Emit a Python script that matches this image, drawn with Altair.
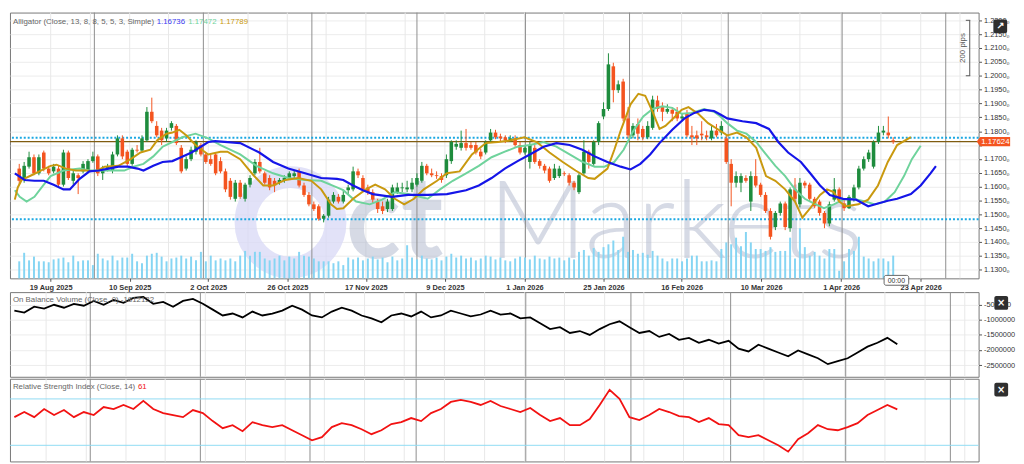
import altair as alt
import pandas as pd

# ---------------- data ----------------
OPEN = [1.1665, 1.1624, 1.1672, 1.1706, 1.1648, 1.1723, 1.1665, 1.1655, 1.1665, 1.1607,
        1.1723, 1.1621, 1.1641, 1.1655, 1.1658, 1.1692, 1.1709, 1.1648, 1.1665, 1.1658,
        1.1716, 1.1774, 1.1726, 1.1682, 1.1733, 1.1730, 1.1767, 1.1870, 1.1819, 1.1802,
        1.1774, 1.1812, 1.1819, 1.1740, 1.1665, 1.1699, 1.1726, 1.1750, 1.1716, 1.1699,
        1.1716, 1.1692, 1.1655, 1.1621, 1.1556, 1.1614, 1.1556, 1.1607, 1.1648, 1.1689,
        1.1648, 1.1631, 1.1621, 1.1614, 1.1621, 1.1631, 1.1638, 1.1655, 1.1604, 1.1570,
        1.1536, 1.1529, 1.1484, 1.1495, 1.1546, 1.1563, 1.1546, 1.1587, 1.1590, 1.1655,
        1.1631, 1.1597, 1.1580, 1.1546, 1.1529, 1.1519, 1.1519, 1.1580, 1.1594, 1.1590,
        1.1590, 1.1607, 1.1621, 1.1675, 1.1648, 1.1641, 1.1638, 1.1641, 1.1692, 1.1744,
        1.1740, 1.1757, 1.1750, 1.1750, 1.1726, 1.1723, 1.1767, 1.1795, 1.1781, 1.1778,
        1.1767, 1.1774, 1.1750, 1.1723, 1.1689, 1.1740, 1.1692, 1.1675, 1.1665, 1.1631,
        1.1638, 1.1648, 1.1641, 1.1614, 1.1580, 1.1648, 1.1726, 1.1682, 1.1761, 1.1853,
        1.1880, 1.2034, 1.1948, 1.1979, 1.1846, 1.1785, 1.1826, 1.1808, 1.1778, 1.1812,
        1.1911, 1.1887, 1.1870, 1.1877, 1.1870, 1.1846, 1.1863, 1.1785, 1.1785, 1.1791,
        1.1785, 1.1774, 1.1802, 1.1795, 1.1774, 1.1682, 1.1614, 1.1614, 1.1631, 1.1546,
        1.1638, 1.1607, 1.1570, 1.1512, 1.1454, 1.1505, 1.1539, 1.1450, 1.1590, 1.1536,
        1.1614, 1.1607, 1.1556, 1.1546, 1.1505, 1.1467, 1.1553, 1.1590, 1.1539, 1.1522,
        1.1553, 1.1597, 1.1665, 1.1699, 1.1672, 1.1761, 1.1795, 1.1795, 1.1767]
CLOSE = [1.1621, 1.1675, 1.1706, 1.1648, 1.1706, 1.1665, 1.1648, 1.1672, 1.1607, 1.1723,
         1.1631, 1.1648, 1.1631, 1.1682, 1.1692, 1.1709, 1.1648, 1.1665, 1.1672, 1.1716,
         1.1774, 1.1709, 1.1682, 1.1733, 1.1730, 1.1774, 1.1870, 1.1836, 1.1785, 1.1767,
         1.1802, 1.1829, 1.1757, 1.1655, 1.1699, 1.1733, 1.1761, 1.1716, 1.1689, 1.1682,
         1.1648, 1.1655, 1.1590, 1.1563, 1.1614, 1.1563, 1.1607, 1.1631, 1.1689, 1.1655,
         1.1614, 1.1597, 1.1604, 1.1624, 1.1631, 1.1648, 1.1648, 1.1604, 1.1570, 1.1536,
         1.1519, 1.1484, 1.1495, 1.1553, 1.1570, 1.1546, 1.1570, 1.1597, 1.1655, 1.1641,
         1.1590, 1.1580, 1.1553, 1.1519, 1.1512, 1.1546, 1.1597, 1.1597, 1.1597, 1.1597,
         1.1614, 1.1631, 1.1675, 1.1648, 1.1641, 1.1638, 1.1624, 1.1699, 1.1761, 1.1754,
         1.1757, 1.1740, 1.1740, 1.1723, 1.1709, 1.1761, 1.1795, 1.1778, 1.1774, 1.1767,
         1.1774, 1.1750, 1.1723, 1.1740, 1.1750, 1.1689, 1.1675, 1.1658, 1.1621, 1.1665,
         1.1665, 1.1645, 1.1614, 1.1597, 1.1641, 1.1726, 1.1689, 1.1761, 1.1829, 1.1880,
         1.2041, 1.1948, 1.1969, 1.1846, 1.1785, 1.1819, 1.1791, 1.1778, 1.1819, 1.1914,
         1.1880, 1.1870, 1.1880, 1.1863, 1.1846, 1.1853, 1.1785, 1.1778, 1.1774, 1.1785,
         1.1778, 1.1802, 1.1785, 1.1819, 1.1689, 1.1614, 1.1638, 1.1638, 1.1621, 1.1638,
         1.1604, 1.1570, 1.1512, 1.1419, 1.1505, 1.1539, 1.1454, 1.1590, 1.1556, 1.1614,
         1.1604, 1.1556, 1.1529, 1.1505, 1.1467, 1.1536, 1.1590, 1.1553, 1.1522, 1.1563,
         1.1597, 1.1665, 1.1699, 1.1723, 1.1761, 1.1795, 1.1802, 1.1785, 1.17624]
HIGH = [1.1682, 1.1689, 1.1726, 1.1716, 1.1716, 1.1730, 1.1675, 1.1682, 1.1675, 1.1733,
        1.1730, 1.1658, 1.1648, 1.1692, 1.1699, 1.1726, 1.1716, 1.1675, 1.1682, 1.1726,
        1.1785, 1.1785, 1.1733, 1.1740, 1.1750, 1.1785, 1.1887, 1.1921, 1.1836, 1.1812,
        1.1812, 1.1836, 1.1826, 1.1750, 1.1709, 1.1744, 1.1767, 1.1757, 1.1723, 1.1716,
        1.1723, 1.1706, 1.1665, 1.1631, 1.1624, 1.1624, 1.1614, 1.1641, 1.1699, 1.1740,
        1.1655, 1.1641, 1.1631, 1.1631, 1.1641, 1.1655, 1.1658, 1.1665, 1.1614, 1.1580,
        1.1546, 1.1536, 1.1501, 1.1563, 1.1580, 1.1573, 1.1587, 1.1607, 1.1672, 1.1665,
        1.1641, 1.1607, 1.1590, 1.1556, 1.1546, 1.1556, 1.1607, 1.1614, 1.1614, 1.1621,
        1.1631, 1.1648, 1.1689, 1.1682, 1.1665, 1.1655, 1.1648, 1.1716, 1.1767, 1.1767,
        1.1802, 1.1808, 1.1761, 1.1761, 1.1737, 1.1767, 1.1808, 1.1805, 1.1791, 1.1785,
        1.1785, 1.1785, 1.1761, 1.1750, 1.1761, 1.1750, 1.1699, 1.1682, 1.1672, 1.1682,
        1.1675, 1.1655, 1.1648, 1.1621, 1.1648, 1.1767, 1.1733, 1.1767, 1.1836, 1.1904,
        1.2081, 1.2047, 1.1983, 1.1989, 1.1887, 1.1829, 1.1846, 1.1819, 1.1836, 1.1928,
        1.1928, 1.1904, 1.1897, 1.1887, 1.1887, 1.1863, 1.1877, 1.1819, 1.1802, 1.1836,
        1.1802, 1.1819, 1.1826, 1.1836, 1.1785, 1.1699, 1.1655, 1.1648, 1.1641, 1.1655,
        1.1699, 1.1614, 1.1580, 1.1522, 1.1512, 1.1546, 1.1546, 1.1597, 1.1631, 1.1631,
        1.1621, 1.1614, 1.1563, 1.1553, 1.1512, 1.1546, 1.1631, 1.1597, 1.1553, 1.1570,
        1.1607, 1.1675, 1.1709, 1.1733, 1.1767, 1.1819, 1.1819, 1.1853, 1.1778]
LOW = [1.1607, 1.1614, 1.1665, 1.1641, 1.1641, 1.1655, 1.1641, 1.1648, 1.1597, 1.1600,
       1.1624, 1.1607, 1.1573, 1.1648, 1.1651, 1.1686, 1.1638, 1.1624, 1.1655, 1.1648,
       1.1709, 1.1699, 1.1675, 1.1675, 1.1723, 1.1723, 1.1761, 1.1829, 1.1778, 1.1750,
       1.1761, 1.1802, 1.1750, 1.1648, 1.1658, 1.1692, 1.1716, 1.1709, 1.1682, 1.1675,
       1.1641, 1.1648, 1.1580, 1.1553, 1.1546, 1.1556, 1.1546, 1.1597, 1.1641, 1.1648,
       1.1607, 1.1587, 1.1580, 1.1607, 1.1614, 1.1624, 1.1631, 1.1597, 1.1563, 1.1529,
       1.1512, 1.1477, 1.1471, 1.1488, 1.1539, 1.1539, 1.1539, 1.1573, 1.1583, 1.1631,
       1.1580, 1.1570, 1.1539, 1.1505, 1.1501, 1.1508, 1.1512, 1.1573, 1.1580, 1.1580,
       1.1580, 1.1600, 1.1614, 1.1641, 1.1634, 1.1628, 1.1614, 1.1631, 1.1682, 1.1733,
       1.1730, 1.1730, 1.1733, 1.1716, 1.1699, 1.1716, 1.1761, 1.1771, 1.1764, 1.1757,
       1.1761, 1.1744, 1.1716, 1.1716, 1.1665, 1.1682, 1.1665, 1.1648, 1.1614, 1.1624,
       1.1631, 1.1638, 1.1604, 1.1587, 1.1573, 1.1641, 1.1665, 1.1675, 1.1750, 1.1843,
       1.1873, 1.1904, 1.1938, 1.1836, 1.1774, 1.1774, 1.1767, 1.1767, 1.1771, 1.1805,
       1.1870, 1.1836, 1.1863, 1.1836, 1.1836, 1.1836, 1.1778, 1.1750, 1.1750, 1.1767,
       1.1767, 1.1767, 1.1778, 1.1785, 1.1682, 1.1529, 1.1597, 1.1580, 1.1614, 1.1512,
       1.1597, 1.1563, 1.1505, 1.1409, 1.1443, 1.1495, 1.1443, 1.1437, 1.1546, 1.1525,
       1.1594, 1.1546, 1.1522, 1.1495, 1.1450, 1.1457, 1.1546, 1.1546, 1.1512, 1.1519,
       1.1546, 1.1590, 1.1658, 1.1689, 1.1665, 1.1754, 1.1785, 1.1774, 1.1754]
# tick volume (thousands)
VOLUME = [18, 27, 19, 23, 18, 18, 17, 20, 21, 22, 17, 24, 18, 19, 19, 14, 26, 21, 19, 24,
          19, 22, 22, 26, 18, 16, 24, 26, 27, 23, 18, 21, 22, 24,
          21, 23, 19, 28, 18, 24, 19, 21, 19, 21, 18, 24, 29, 24, 28, 28, 21, 19, 21, 24,
          19, 23, 21, 28, 24, 23, 21, 18, 18, 18, 16, 18, 14,
          22, 20, 22, 19, 21, 23, 20, 22, 17, 23, 19, 21, 35, 22, 20, 24, 21, 20, 22, 19,
          23, 26, 22, 24, 21, 22, 19, 21, 24, 23, 20, 22, 19, 18, 21, 23, 22, 20, 24, 21,
          20, 23, 21, 22, 19, 22,
          20, 28, 30, 24, 32, 28, 33, 36, 40, 30, 44, 28, 30, 26, 27, 25, 29, 24, 21, 18,
          21, 21, 18, 21, 24, 24, 18, 18, 19,
          18, 31, 38, 36, 43, 34, 49, 38, 31, 31, 29, 33, 28, 29, 29, 43, 21, 53, 33, 24,
          28, 24, 21, 31, 31, 8, 18, 31, 29, 44, 23, 21, 18, 21, 21, 18, 24]

# Alligator lines (bar position, value) - already shifted forward as drawn
JAW_IDX = [-0.9, 1.1, 3.1, 5.0, 7.0, 9.0, 10.3, 12.3, 14.3, 16.2, 18.2, 20.2, 22.1, 24.1, 25.3,
           27.3, 29.2, 31.2, 32.6, 35.1, 38.5, 39.9, 45.0, 48.9, 51.7, 54.8, 58.2, 61.5, 64.7,
           66.0, 68.0, 70.0, 72.0, 75.9, 79.2, 83.2, 87.1, 91.0, 93.6, 96.2, 98.9, 101.5, 104.0,
           106.8, 109.4, 112.1, 114.7, 117.2, 119.8, 122.5, 124.5, 126.5, 128.5, 130.4, 133.0,
           135.5, 137.5, 139.5, 141.5, 142.8, 144.2, 147.3, 150.1, 152.7, 154.6, 156.6, 159.2,
           161.1, 163.1, 165.1, 167.8, 170.4, 172.9, 174.9, 176.9, 178.8, 181.6, 183.6, 185.6, 186.7]
JAW = [1.1648, 1.1624, 1.1621, 1.1621, 1.1607, 1.1590, 1.1590, 1.1628, 1.1655, 1.1658,
       1.1665, 1.1672, 1.1672, 1.1665, 1.1658, 1.1675, 1.1689, 1.1692, 1.1703, 1.1723,
       1.1761, 1.1764, 1.1757, 1.1723, 1.1689, 1.1665, 1.1648, 1.1631, 1.1628, 1.1624,
       1.1604, 1.1587, 1.1573, 1.1563, 1.1570, 1.1570, 1.1573, 1.1587, 1.1604, 1.1631,
       1.1665, 1.1692, 1.1716, 1.1744, 1.1757, 1.1750, 1.1733, 1.1709, 1.1689, 1.1672,
       1.1662, 1.1682, 1.1716, 1.1757, 1.1805, 1.1846, 1.1866, 1.1877, 1.1873, 1.1860,
       1.1846, 1.1836, 1.1829, 1.1808, 1.1761, 1.1723, 1.1689, 1.1648, 1.1604, 1.1570,
       1.1556, 1.1553, 1.1529, 1.1539, 1.1549, 1.1556, 1.1573, 1.1604, 1.1648, 1.16736]
TEETH_IDX = [-0.9, 0.1, 1.5, 3.1, 5.0, 6.4, 9.0, 12.3, 14.3, 16.2, 18.8, 21.4, 23.3, 25.3, 27.3,
             29.2, 31.2, 33.2, 35.9, 38.5, 41.0, 45.0, 48.3, 51.7, 54.8, 58.2, 61.5, 64.7, 66.0,
             68.6, 71.4, 73.9, 76.5, 79.2, 83.2, 85.7, 88.3, 91.0, 93.6, 96.2, 98.9, 101.5, 104.0,
             106.8, 109.4, 112.1, 114.7, 117.2, 119.2, 121.2, 123.1, 125.1, 127.1, 129.0, 131.0,
             133.0, 134.9, 136.9, 139.5, 141.5, 142.8, 144.2, 146.2, 148.1, 150.1, 152.1, 154.0,
             156.0, 158.0, 160.0, 161.9, 163.9, 165.9, 167.8, 169.8, 172.3, 174.3, 176.3, 178.3,
             180.2, 181.8, 183.6]
TEETH = [1.1587, 1.1563, 1.1546, 1.1563, 1.1607, 1.1638, 1.1658, 1.1665, 1.1658, 1.1658,
         1.1658, 1.1658, 1.1672, 1.1682, 1.1709, 1.1744, 1.1761, 1.1778, 1.1791, 1.1774,
         1.1750, 1.1716, 1.1675, 1.1648, 1.1631, 1.1624, 1.1621, 1.1597, 1.1587, 1.1546,
         1.1536, 1.1553, 1.1580, 1.1573, 1.1556, 1.1590, 1.1621, 1.1648, 1.1675, 1.1706,
         1.1726, 1.1744, 1.1750, 1.1761, 1.1744, 1.1716, 1.1689, 1.1672, 1.1672, 1.1689,
         1.1733, 1.1802, 1.1853, 1.1880, 1.1890, 1.1884, 1.1863, 1.1866, 1.1880, 1.1870,
         1.1853, 1.1829, 1.1802, 1.1791, 1.1761, 1.1716, 1.1675, 1.1638, 1.1590, 1.1556,
         1.1539, 1.1522, 1.1536, 1.1553, 1.1556, 1.1546, 1.1536, 1.1546, 1.1580, 1.1638,
         1.1699, 1.17472]
LIPS_IDX = [-0.9, -0.3, 0.5, 2.5, 4.4, 6.4, 7.6, 9.5, 11.5, 13.5, 15.5, 17.4, 20.2, 22.7, 24.7,
            26.7, 28.1, 30.0, 31.2, 32.6, 34.0, 35.9, 38.5, 41.0, 42.4, 45.0, 47.7, 49.7, 51.7,
            54.2, 56.8, 59.5, 61.5, 63.5, 64.7, 66.0, 68.0, 70.6, 72.5, 74.5, 76.5, 78.4, 80.4,
            82.4, 85.1, 87.1, 89.7, 92.2, 95.0, 97.5, 100.1, 102.9, 105.4, 108.0, 110.7, 113.3,
            115.9, 117.2, 119.8, 121.2, 122.5, 124.5, 126.1, 127.5, 129.0, 130.4, 131.6, 133.6,
            134.9, 136.3, 138.3, 140.3, 142.2, 144.2, 146.2, 148.1, 150.1, 152.1, 154.0, 156.0,
            158.0, 159.5, 161.1, 163.1, 164.5, 165.9, 167.0, 168.4, 170.9, 172.9, 174.9, 176.9,
            178.8, 181.6]
LIPS = [1.1553, 1.1597, 1.1624, 1.1641, 1.1658, 1.1675, 1.1679, 1.1665, 1.1658, 1.1658,
        1.1655, 1.1672, 1.1675, 1.1699, 1.1723, 1.1733, 1.1767, 1.1791, 1.1795, 1.1805,
        1.1785, 1.1750, 1.1716, 1.1726, 1.1726, 1.1699, 1.1641, 1.1604, 1.1604, 1.1624,
        1.1631, 1.1621, 1.1590, 1.1536, 1.1519, 1.1522, 1.1556, 1.1590, 1.1607, 1.1590,
        1.1556, 1.1536, 1.1556, 1.1590, 1.1621, 1.1648, 1.1655, 1.1716, 1.1757, 1.1761,
        1.1767, 1.1778, 1.1761, 1.1723, 1.1689, 1.1658, 1.1631, 1.1628, 1.1665, 1.1733,
        1.1802, 1.1897, 1.1935, 1.1928, 1.1870, 1.1808, 1.1819, 1.1853, 1.1877, 1.1887,
        1.1863, 1.1829, 1.1808, 1.1785, 1.1795, 1.1778, 1.1740, 1.1638, 1.1621, 1.1590,
        1.1546, 1.1488, 1.1522, 1.1570, 1.1590, 1.1580, 1.1546, 1.1529, 1.1536, 1.1553,
        1.1604, 1.1689, 1.1750, 1.17789]

# On Balance Volume, every second bar
OBV = [-694000, -758000, -565000, -629000, -500000, -597000, -468000, -532000, -371000, -500000,
       -339000, -435000, -274000, -242000, -468000, -403000, -565000, -371000, -306000, -468000,
       -661000, -855000, -790000, -919000, -726000, -855000, -790000, -694000, -532000, -661000,
       -855000, -919000, -726000, -597000, -694000, -855000, -952000, -1081000, -855000, -790000,
       -887000, -726000, -919000, -855000, -694000, -790000, -887000, -823000, -694000, -823000,
       -790000, -952000, -919000, -1113000, -1306000, -1242000, -1435000, -1371000, -1500000, -1306000,
       -1145000, -1048000, -1242000, -1435000, -1371000, -1565000, -1468000, -1661000, -1597000, -1758000,
       -1661000, -1790000, -1694000, -1952000, -2048000, -1823000, -1952000, -2081000, -2210000, -2016000,
       -2145000, -2274000, -2468000, -2371000, -2274000, -2081000, -1887000, -1758000, -1597000, -1812122]
# RSI(14), every second bar
RSI = [54.3, 58.7, 54.3, 61.3, 56.1, 60.4, 54.3, 58.7, 56.1, 63.0,
       61.3, 64.8, 61.3, 68.3, 61.3, 57.8, 56.1, 54.3, 60.4, 57.8,
       50.9, 44.8, 47.4, 42.2, 50.0, 47.4, 45.7, 47.4, 43.0, 38.7,
       34.3, 37.0, 45.7, 49.1, 47.4, 43.9, 39.6, 43.0, 48.3, 50.0,
       53.5, 50.9, 57.8, 61.3, 67.4, 69.1, 67.4, 64.8, 68.3, 63.9,
       61.3, 58.7, 62.2, 56.1, 50.9, 53.5, 47.4, 47.4, 52.6, 64.8,
       77.8, 70.0, 54.3, 51.7, 56.1, 61.3, 58.7, 55.2, 54.3, 50.0,
       53.5, 48.3, 47.4, 38.7, 37.0, 38.7, 34.3, 30.0, 24.5, 35.2,
       40.4, 47.4, 43.9, 43.0, 45.7, 49.1, 56.1, 60.4, 64.8, 61.0]

DATE_LABELS = ["19 Aug 2025", "10 Sep 2025", "2 Oct 2025", "26 Oct 2025", "17 Nov 2025",
               "9 Dec 2025", "1 Jan 2026", "25 Jan 2026", "16 Feb 2026", "10 Mar 2026",
               "1 Apr 2026", "23 Apr 2026"]
DATE_LABEL_IDX = [6.4, 22.5, 38.5, 54.6, 70.6, 86.7, 102.9, 119.0, 134.9, 151.1, 167.4, 183.6]
MINOR_GRID_IDX = [14.5, 30.4, 46.6, 62.5, 78.6, 94.8, 110.9, 126.9, 143.0, 159.0, 175.5, 191.6]
MONTH_IDX = [15.3, 37.5, 59.6, 81.0, 103.1, 124.3, 144.4, 167.6, 188.7]
PRICE_TICKS = [1.1300, 1.1350, 1.1400, 1.1450, 1.1500, 1.1550, 1.1600, 1.1650, 1.1700, 1.1750,
               1.1800, 1.1850, 1.1900, 1.1950, 1.2000, 1.2050, 1.2100, 1.2150, 1.2200]
OBV_TICKS = [-500000, -1000000, -1500000, -2000000, -2500000]
RSI_TICKS = [30, 70]
LEVELS = [1.1776, 1.1482]
LAST_PRICE = 1.17624
PIPS_SPAN = [1.2000, 1.2200]

N = len(CLOSE)
assert len(OPEN) == N and len(HIGH) == N and len(LOW) == N and len(VOLUME) == N
assert len(JAW) == len(JAW_IDX) and len(TEETH) == len(TEETH_IDX) and len(LIPS) == len(LIPS_IDX)
assert len(OBV) == len(range(0, N, 2)) and len(RSI) == len(OBV)

# ---------------- layout / style ----------------
W, H_MAIN, H_OBV, H_RSI = 984, 270, 86, 84
X_DOMAIN = [-0.886, 194.39]
P_DOMAIN = [1.1269, 1.2228]
VOL_DOMAIN = [0, 281]
OBV_DOMAIN = [-2887000, -80600]
RSI_DOMAIN = [16.1, 87.4]
FONT = "Liberation Sans"
UP, DOWN = "#1e8c3d", "#f4541f"

xs = alt.Scale(domain=X_DOMAIN, nice=False, zero=False)
ps = alt.Scale(domain=P_DOMAIN, nice=False, zero=False)

label_expr = ""
for pos, lab in zip(DATE_LABEL_IDX, DATE_LABELS):
    label_expr += f"abs(datum.value - {pos}) < 0.5 ? '{lab}' : "
label_expr += "''"

x_axis = alt.Axis(values=DATE_LABEL_IDX, labelExpr=label_expr, grid=False, domain=False,
                  ticks=True, tickSize=3, tickColor="#555", labelFont=FONT, labelFontSize=7.5,
                  labelFontWeight="bold", labelColor="#333", labelPadding=2, labelFlush=False,
                  labelOverlap=False, title=None)
X_MAIN = alt.X("i:Q", scale=xs, axis=x_axis)
X_SUB = alt.X("i:Q", scale=xs, axis=None)


def axis_right(values, expr, grid=True):
    return alt.Axis(orient="right", values=values, labelExpr=expr, grid=grid, gridColor="#ececec",
                    domain=False, tickSize=3, tickColor="#555", labelFont=FONT, labelFontSize=7.5,
                    labelColor="#333", labelPadding=2, title=None, labelOverlap=False)


bars = pd.DataFrame({"i": list(range(N)), "open": OPEN, "high": HIGH, "low": LOW,
                     "close": CLOSE, "vol": VOLUME})
bars["dir"] = ["up" if c >= o else "down" for o, c in zip(OPEN, CLOSE)]
col = alt.Color("dir:N", scale=alt.Scale(domain=["up", "down"], range=[UP, DOWN]), legend=None)

one = pd.DataFrame({"k": [0]})
light_df = pd.DataFrame({"i": DATE_LABEL_IDX + MINOR_GRID_IDX})
month_df = pd.DataFrame({"i": MONTH_IDX})


def vgrid(xenc):
    light = alt.Chart(light_df).mark_rule(color="#e8e8e8", strokeWidth=1).encode(x=xenc)
    dark = alt.Chart(month_df).mark_rule(color="#8d8d8d", strokeWidth=1).encode(x=xenc)
    return light, dark


def label(text, x, y, color="#666", size=8, weight="normal", align="left", font=FONT, angle=0):
    return alt.Chart(one).mark_text(align=align, baseline="middle", fontSize=size, font=font,
                                    fontWeight=weight, color=color, angle=angle).encode(
        x=alt.value(x), y=alt.value(y), text=alt.value(text))


def icon(symbol, x, y):
    box = alt.Chart(one).mark_rect(color="#2f2f2f", cornerRadius=2).encode(
        x=alt.value(x), x2=alt.value(x + 14), y=alt.value(y), y2=alt.value(y + 14))
    txt = label(symbol, x + 7, y + 7, color="white", size=10, weight="bold", align="center",
                font="DejaVu Sans")
    return [box, txt]


# ---------------- main panel ----------------
light_m, dark_m = vgrid(X_MAIN)

wm_circle = alt.Chart(one).mark_point(shape="circle", size=8400, filled=False, stroke="#d9d9f6",
                                      strokeWidth=22, opacity=0.75, clip=True).encode(
    x=alt.value(285), y=alt.value(213))
wm_ct = alt.Chart(one).mark_text(align="left", baseline="alphabetic", fontSize=116, font="Lato",
                                 fontWeight="bold", color="#aeb6cc", opacity=0.5, clip=True).encode(
    x=alt.value(341), y=alt.value(249), text=alt.value("ct"))
wm_mk = alt.Chart(one).mark_text(align="left", baseline="alphabetic", fontSize=110, font="Lato",
                                 fontWeight=300, color="#aeb6cc", opacity=0.5, clip=True).encode(
    x=alt.value(486), y=alt.value(249), text=alt.value("Markets"))

vol = alt.Chart(bars).mark_bar(size=2, color="#86d5f3").encode(
    x=X_MAIN, y=alt.Y("vol:Q", scale=alt.Scale(domain=VOL_DOMAIN, nice=False), axis=None))

levels = alt.Chart(pd.DataFrame({"p": LEVELS})).mark_rule(
    color="#1ba8e2", strokeWidth=2, strokeDash=[2, 2]).encode(
    y=alt.Y("p:Q", scale=ps, axis=None))
lastline = alt.Chart(pd.DataFrame({"p": [LAST_PRICE]})).mark_rule(
    color="#7f5c10", strokeWidth=1.3).encode(y=alt.Y("p:Q", scale=ps, axis=None))

# the price tag covers the tick label next to the last price, as in the reference
price_label_expr = (f"abs(datum.value - {LAST_PRICE}) < 0.0015 ? '' : "
                    "format(datum.value, '.4f') + '\u2080'")
wicks = alt.Chart(bars).mark_rule(strokeWidth=1).encode(
    x=X_MAIN,
    y=alt.Y("low:Q", scale=ps, axis=axis_right(PRICE_TICKS, price_label_expr)),
    y2="high:Q", color=col)
bodies = alt.Chart(bars).mark_bar(size=3.6).encode(
    x=X_MAIN, y=alt.Y("open:Q", scale=ps, axis=None), y2="close:Q", color=col)


def aline(idx, vals, color, width=2.0):
    return alt.Chart(pd.DataFrame({"i": idx, "v": vals})).mark_line(
        color=color, strokeWidth=width, clip=True).encode(
        x=X_MAIN, y=alt.Y("v:Q", scale=ps, axis=None))


JAW_C, TEETH_C, LIPS_C = "#1515e8", "#6fd39c", "#c9990f"
jaw = aline(JAW_IDX, JAW, JAW_C, 2.2)
teeth = aline(TEETH_IDX, TEETH, TEETH_C)
lips = aline(LIPS_IDX, LIPS, LIPS_C)

pips_df = pd.DataFrame({"p": [PIPS_SPAN[0]], "p2": [PIPS_SPAN[1]]})
pips_rule = alt.Chart(pips_df).mark_rule(color="#555", strokeWidth=1).encode(
    x=alt.value(975), y=alt.Y("p:Q", scale=ps, axis=None), y2="p2:Q")
pips_ends = alt.Chart(pd.DataFrame({"p": PIPS_SPAN})).mark_rule(color="#555", strokeWidth=1).encode(
    x=alt.value(971), x2=alt.value(975.5), y=alt.Y("p:Q", scale=ps, axis=None))
pips_txt = alt.Chart(pd.DataFrame({"p": [(PIPS_SPAN[0] + PIPS_SPAN[1]) / 2]})).mark_text(
    angle=270, fontSize=8, font=FONT, color="#555", baseline="middle", align="center").encode(
    x=alt.value(968), y=alt.Y("p:Q", scale=ps, axis=None), text=alt.value("200 pips"))

tag_df = pd.DataFrame({"p": [LAST_PRICE], "t": [f"{LAST_PRICE:.5f}"]})
tag_box = alt.Chart(tag_df).mark_point(
    shape="M-1.12,0L-0.9,-0.29L1,-0.29L1,0.29L-0.9,0.29Z", size=1024, filled=True,
    color="#f4541f", opacity=1).encode(x=alt.value(W + 16), y=alt.Y("p:Q", scale=ps, axis=None))
tag_txt = alt.Chart(tag_df).mark_text(fontSize=8, font=FONT, color="white", baseline="middle").encode(
    x=alt.value(W + 17), y=alt.Y("p:Q", scale=ps, axis=None), text="t:N")

t_main = [
    label("Alligator (Close, 13, 8, 8, 5, 5, 3, Simple)", 3, 10),
    label(f"{JAW[-1]:.5f}", 149, 10, color="#3a3af0"),
    label(f"{TEETH[-1]:.5f}", 181, 10, color="#6fd39c"),
    label(f"{LIPS[-1]:.5f}", 213, 10, color="#c9990f"),
]
clock_box = alt.Chart(one).mark_rect(fill="white", stroke="#666", strokeWidth=1, cornerRadius=2).encode(
    x=alt.value(888), x2=alt.value(913), y=alt.value(267), y2=alt.value(277))
clock_txt = label("00:00", 900.5, 272.5, color="#333", size=7, align="center")

main = alt.layer(
    light_m, wm_circle, wm_ct, wm_mk, dark_m, vol, levels, lastline, wicks, bodies,
    teeth, lips, jaw, pips_rule, pips_ends, pips_txt, tag_box, tag_txt, clock_box, clock_txt,
    *t_main, *icon("\u2197", 999, 7)
).resolve_scale(y="independent").properties(width=W, height=H_MAIN)

# ---------------- OBV panel ----------------
sub_idx = list(range(0, N, 2))
light_o, dark_o = vgrid(X_SUB)
obv_line = alt.Chart(pd.DataFrame({"i": sub_idx, "v": OBV})).mark_line(
    color="black", strokeWidth=1.8).encode(
    x=X_SUB, y=alt.Y("v:Q", scale=alt.Scale(domain=OBV_DOMAIN, nice=False, zero=False),
                     axis=axis_right(OBV_TICKS, "'' + datum.value")))
obv = alt.layer(
    light_o, dark_o, obv_line,
    label(f"On Balance Volume (Close, 0) {OBV[-1]}", 3, 8),
    *icon("\u00d7", 1000, 4)
).properties(width=W, height=H_OBV)

# ---------------- RSI panel ----------------
light_r, dark_r = vgrid(X_SUB)
rs = alt.Scale(domain=RSI_DOMAIN, nice=False, zero=False)
rsi_levels = alt.Chart(pd.DataFrame({"v": RSI_TICKS})).mark_rule(color="#8fdbf3", strokeWidth=1).encode(
    y=alt.Y("v:Q", scale=rs, axis=None))
rsi_line = alt.Chart(pd.DataFrame({"i": sub_idx, "v": RSI})).mark_line(
    color="#f21212", strokeWidth=1.8).encode(
    x=X_SUB, y=alt.Y("v:Q", scale=rs, axis=axis_right(RSI_TICKS, "'' + datum.value", grid=False)))
rsi = alt.layer(
    light_r, dark_r, rsi_levels, rsi_line,
    label("Relative Strength Index (Close, 14)", 3, 8),
    label(f"{RSI[-1]:.0f}", 130, 8, color="#f21212"),
    *icon("\u00d7", 1000, 4)
).properties(width=W, height=H_RSI)

chart = alt.vconcat(main, obv, rsi, spacing=0,
                    padding={"left": 0, "right": 0, "top": 0, "bottom": 0}).configure_view(
    stroke="#777", strokeWidth=1)

chart.save("out.html", embed_options={"renderer": "svg", "actions": False})
